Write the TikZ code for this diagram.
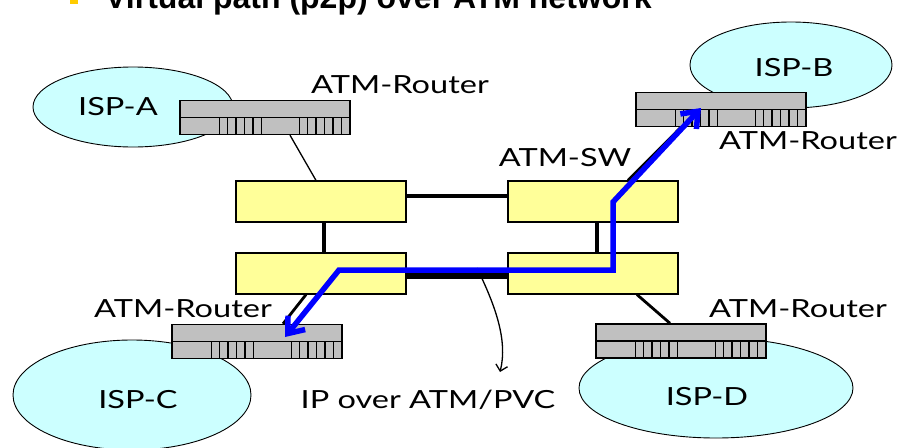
\documentclass[tikz,border=0pt]{standalone}
\usepackage{fontspec}
\newfontfamily\handfont{Lato}[FakeStretch=1.3]
\newfontfamily\titlefont{Liberation Sans}
\usetikzlibrary{arrows.meta}
\usetikzlibrary{shapes.geometric}

\definecolor{ispcyan}{HTML}{CCFFFF}
\definecolor{routergray}{HTML}{C0C0C0}
\definecolor{swyellow}{HTML}{FFFF99}
\definecolor{bulletgold}{HTML}{FFCC00}

\tikzset{
  isp/.style={ellipse,draw,fill=ispcyan,line width=0.9pt,inner sep=0pt},
  lbl/.style={font=\handfont\fontsize{25pt}{30pt}\selectfont,inner sep=0pt},
  router/.style={draw,fill=routergray,line width=1.4pt,minimum width=170pt,minimum height=34pt,inner sep=0pt},
  atmsw/.style={draw,fill=swyellow,line width=1.2pt,minimum width=170pt,minimum height=41pt,inner sep=0pt},
  trunk/.style={line width=4.5pt},
  tap/.style={line width=2.8pt},
  vpath/.style={blue,line width=5.5pt,arrows={Straight Barb[length=14pt,width=22pt]-Straight Barb[length=14pt,width=22pt]}},
}

% middle line and port slots of a router box
\newcommand{\routerports}[1]{%
  \draw[line width=1.4pt] (#1.west) -- (#1.east);
  \foreach \dx in {40,48.4,56.8,65.2,73.6,82,120,128.4,136.8,145.2,153.6,162}
    \draw[line width=1.4pt] ([xshift=\dx pt]#1.south west) -- ([xshift=\dx pt]#1.west);
}

\begin{document}
\begin{tikzpicture}[x=1pt,y=-1pt]
\useasboundingbox (0,0) rectangle (902,447);
\clip (0,0) rectangle (902,447);

% title (cut by the top edge)
\fill[bulletgold] (70,-4) rectangle (78,4);
\node[anchor=base west,inner sep=0pt,font=\titlefont\bfseries\fontsize{32pt}{38pt}\selectfont] (title) at (105,9) {Virtual path (p2p) over ATM network};

% ISP clouds
\node[isp,minimum width=200pt,minimum height=80pt] (ispA) at (133,107) {};
\node[isp,minimum width=202pt,minimum height=86pt] (ispB) at (791,65) {};
\node[isp,minimum width=238pt,minimum height=110pt] (ispC) at (132,395) {};
\node[isp,minimum width=274pt,minimum height=100pt] (ispD) at (716,388) {};
\node[lbl] (ispAtext) at (118,107) {ISP-A};
\node[lbl] (ispBtext) at (794,68) {ISP-B};
\node[lbl] (ispCtext) at (138,400) {ISP-C};
\node[lbl] (ispDtext) at (707,397) {ISP-D};

% ATM routers
\node[router] (rtA) at (265,117.5) {};
\node[router] (rtB) at (721,109.5) {};
\node[router] (rtC) at (257,341.5) {};
\node[router] (rtD) at (681,341) {};
\foreach \r in {rtA,rtB,rtC,rtD} \routerports{\r};

% ATM switches
\node[atmsw] (swA) at (321,201.5) {};
\node[atmsw] (swB) at (593,201.5) {};
\node[atmsw] (swC) at (321,273.5) {};
\node[atmsw] (swD) at (593,273.5) {};

% trunks between switches
\draw[trunk] ([yshift=5.5pt]swA.east) -- ([yshift=5.5pt]swB.west);
\draw[trunk,line width=5.5pt] ([yshift=-2.5pt]swC.east) -- ([yshift=-2.5pt]swD.west);
\draw[trunk] ([xshift=3pt]swA.south) -- ([xshift=3pt]swC.north);
\draw[trunk] ([xshift=4pt]swB.south) -- ([xshift=4pt]swD.north);

% router access lines
\draw[line width=1.3pt] ([xshift=25pt]rtA.south) -- ([xshift=-5pt]swA.north);
\draw[tap] ([xshift=-40pt]rtB.south) -- ([xshift=35pt]swB.north);
\draw[tap] ([xshift=26pt]rtC.north) -- ([xshift=-15pt]swC.south);
\draw[tap] ([xshift=-11pt]rtD.north) -- ([xshift=44pt]swD.south);

% labels
\node[lbl] (lblA) at (400,85) {ATM-Router};
\node[lbl] (lblB) at (808,141) {ATM-Router};
\node[lbl] (lblSW) at (565,158) {ATM-SW};
\node[lbl] (lblC) at (183,309) {ATM-Router};
\node[lbl] (lblD) at (798,309) {ATM-Router};
\node[lbl] (pvc) at (428,400) {IP over ATM/PVC};

% callout
\coordinate (pvcsrc) at (477,268);
\coordinate (pvctip) at (500,372);
\draw[line width=1.3pt,-{Straight Barb[length=6pt,width=12pt]}] (pvcsrc) .. controls (495,305) and (508,340) .. (pvctip);

% virtual path C <-> B
\coordinate (vpB) at (701,108);
\coordinate (vpC) at (285,337);
\draw[vpath] (vpC) -- (339,270) -- (613,270) -- (613,202) -- (vpB);

\end{tikzpicture}
\end{document}
